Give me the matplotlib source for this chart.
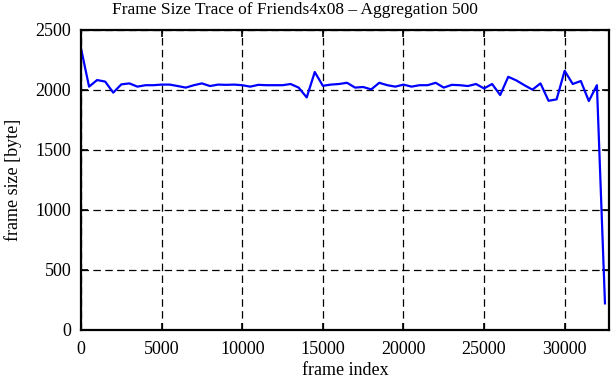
import matplotlib
matplotlib.use("Agg")
import matplotlib.pyplot as plt

# frame index (aggregation of 500 frames)
frame_idx = [i * 500 for i in range(66)]
frame_size = [
    2347, 2028, 2083, 2070, 1978, 2047, 2055, 2028, 2040, 2040,
    2045, 2045, 2033, 2020, 2040, 2055, 2033, 2045, 2043, 2045,
    2040, 2028, 2043, 2040, 2040, 2040, 2050, 2020, 1938, 2150,
    2035, 2045, 2050, 2060, 2020, 2025, 2005, 2060, 2040, 2028,
    2045, 2028, 2040, 2040, 2060, 2020, 2043, 2040, 2033, 2050,
    2013, 2050, 1958, 2110, 2080, 2040, 2003, 2055, 1910, 1922,
    2160, 2050, 2075, 1908, 2040, 222,
]
x_ticks = [0, 5000, 10000, 15000, 20000, 25000, 30000]
y_ticks = [0, 500, 1000, 1500, 2000, 2500]

plt.rcParams['font.family'] = ['Liberation Serif', 'DejaVu Serif']

fig = plt.figure(figsize=(6.11, 3.80), dpi=100)
ax = fig.add_axes([81 / 611, 50 / 380, 528 / 611, 300 / 380])

ax.plot(frame_idx, frame_size, color='#0000ff', linewidth=1.6)

ax.set_xlim(0, 32750)
ax.set_ylim(0, 2500)
ax.set_xticks(x_ticks)
ax.set_yticks(y_ticks)
ax.grid(True, color='black', linestyle=(0, (6, 3.5)), linewidth=0.9)
ax.tick_params(direction='in', top=True, right=True, length=5, width=1.2,
               labelsize=13)
ax.tick_params(axis='x', pad=8)
ax.tick_params(axis='y', pad=7)
for s in ax.spines.values():
    s.set_linewidth(1.6)

fig.text(0.483, 0.995, 'Frame Size Trace of Friends4x08 – Aggregation 500',
         fontsize=12.5, ha='center', va='top')
ax.set_xlabel('frame index', fontsize=13, labelpad=3)
ax.set_ylabel('frame size [byte]', fontsize=13, labelpad=10)

fig.savefig('out.png', dpi=100)
